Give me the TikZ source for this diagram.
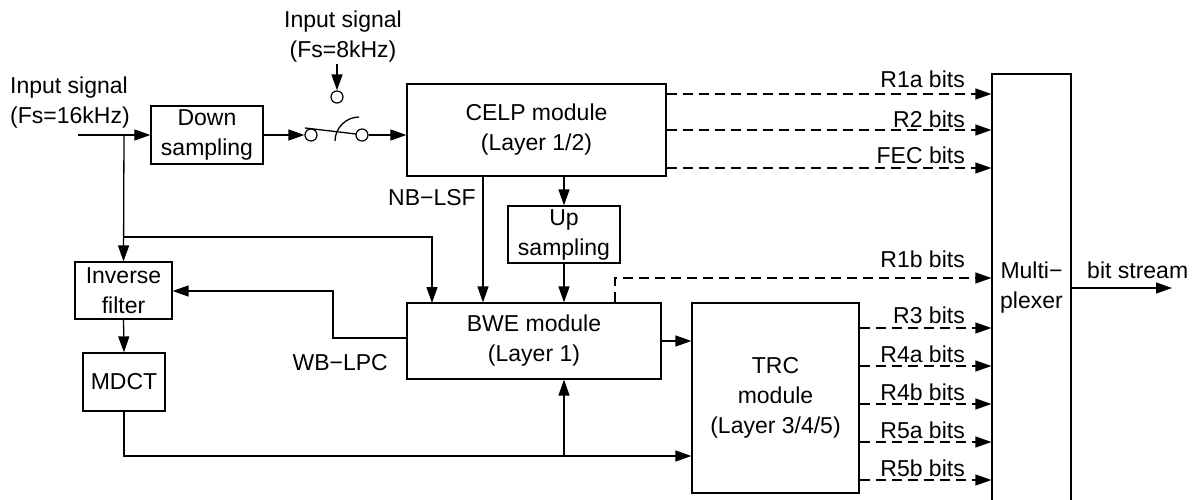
\documentclass[tikz,border=0pt]{standalone}
\usepackage{fontspec}
\setmainfont{Liberation Sans}
\usetikzlibrary{arrows.meta,calc}
\begin{document}
\begin{tikzpicture}[x=1pt,y=-1pt,
  every node/.style={font=\fontsize{23}{30}\selectfont, inner sep=0pt},
  box/.style={draw, line width=1.2pt, align=center},
  lbl/.style={align=center},
  ln/.style={line width=1.3pt},
  arr/.style={ln, -{Triangle[length=16pt,width=11pt]}},
  dsh/.style={arr, dash pattern=on 10pt off 6pt},
  swc/.style={draw, circle, line width=1.2pt, minimum size=12pt, inner sep=0pt}]
\useasboundingbox (0,0) rectangle (1199,500);

% blocks
\node[box, minimum width=112pt, minimum height=58pt] (down) at (207,135) {Down\\sampling};
\node[box, minimum width=259pt, minimum height=92pt] (celp) at (536.5,130) {CELP module\\(Layer 1/2)};
\node[box, minimum width=112pt, minimum height=57pt] (up) at (564,234.5) {Up\\sampling};
\node[box, minimum width=254pt, minimum height=76pt] (bwe) at (534,341) {BWE module\\(Layer 1)};
\node[box, minimum width=97pt, minimum height=57pt] (inv) at (123.5,290.5) {Inverse\\filter};
\node[box, minimum width=82pt, minimum height=58pt] (mdct) at (124,382) {MDCT};
\node[box, minimum width=167pt, minimum height=190pt] (trc) at (775.5,398) {TRC\\module\\(Layer 3/4/5)};
\node[box, minimum width=79pt, minimum height=428pt] (mux) at (1031.5,288) {Multi−\\plexer};

% switch
\node[swc] (swL) at (311,135) {};
\node[swc] (swR) at (362,135) {};
\node[swc] (swT) at (337,97) {};
\draw[ln] (305,128) -- (356,134);
\draw[ln] (335,141) .. controls (335,128) and (346,117) .. (359,117);

% text labels
\node[lbl, align=left, anchor=west] (tin16) at (10,103) {Input signal\\(Fs=16kHz)};
\node[lbl] (tin8) at (343,37) {Input signal\\(Fs=8kHz)};
\node[lbl, anchor=east] (tnb) at (476,198) {NB−LSF};
\node[lbl, anchor=east] (twb) at (388,363) {WB−LPC};
\node[lbl, anchor=west] (tbs) at (1087,270) {bit stream};

\node[lbl, anchor=base east] (l1) at (965,88) {R1a bits};
\node[lbl, anchor=base east] (l2) at (965,128) {R2 bits};
\node[lbl, anchor=base east] (l3) at (965,163) {FEC bits};
\node[lbl, anchor=base east] (l4) at (965,267) {R1b bits};
\node[lbl, anchor=base east] (l5) at (965,323) {R3 bits};
\node[lbl, anchor=base east] (l6) at (965,362) {R4a bits};
\node[lbl, anchor=base east] (l7) at (965,400) {R4b bits};
\node[lbl, anchor=base east] (l8) at (965,438) {R5a bits};
\node[lbl, anchor=base east] (l9) at (965,476) {R5b bits};

% coordinates
\coordinate (in16) at (78,135);
\coordinate (j1) at (124,135);
\coordinate (j2) at (124,237);
\coordinate (bweA) at (432,303);
\coordinate (in8) at (337,64);
\coordinate (xN) at (483,0);
\coordinate (xR) at (615,278);
\coordinate (w1) at (0,338);
\coordinate (w2) at (333,291);
\coordinate (m1) at (124,456);
\coordinate (jB) at (564,456);
\coordinate (bs) at (1172,288);
\coordinate (y1) at (0,94);
\coordinate (y2) at (0,130);
\coordinate (y3) at (0,168);
\coordinate (y4) at (0,328);
\coordinate (y5) at (0,366);
\coordinate (y6) at (0,404);
\coordinate (y7) at (0,442);
\coordinate (y8) at (0,480);

% connectors
\draw[arr] (in16) -- (down.west);
\draw[arr] (j1) -- (inv.north);
\draw[arr] (j2) -| (bweA);
\draw[arr] (down.east) -- (swL.west);
\draw[arr] (swR.east) -- (celp.west |- swR);
\draw[arr] (in8) -- (swT.north);

\draw[dsh] (celp.east |- y1) -- (mux.west |- y1);
\draw[dsh] (celp.east |- y2) -- (mux.west |- y2);
\draw[dsh] (celp.east |- y3) -- (mux.west |- y3);

\draw[arr] (celp.south -| xN) -- (bwe.north -| xN);
\draw[arr] (celp.south -| up.north) -- (up.north);
\draw[arr] (up.south) -- (bwe.north -| up.south);
\draw[dsh] (bwe.north -| xR) -- (xR) -- (mux.west |- xR);

\draw[arr] (bwe.west |- w1) -| (w2) -- (inv.east |- w2);
\draw[arr] (inv.south) -- (mdct.north);
\draw[arr] (mdct.south) |- (trc.west |- m1);
\draw[arr] (jB) -- (bwe.south -| jB);
\draw[arr] (bwe.east) -- (trc.west |- bwe.east);

\draw[dsh] (trc.east |- y4) -- (mux.west |- y4);
\draw[dsh] (trc.east |- y5) -- (mux.west |- y5);
\draw[dsh] (trc.east |- y6) -- (mux.west |- y6);
\draw[dsh] (trc.east |- y7) -- (mux.west |- y7);
\draw[dsh] (trc.east |- y8) -- (mux.west |- y8);

\draw[arr] (mux.east) -- (bs);
\end{tikzpicture}
\end{document}
